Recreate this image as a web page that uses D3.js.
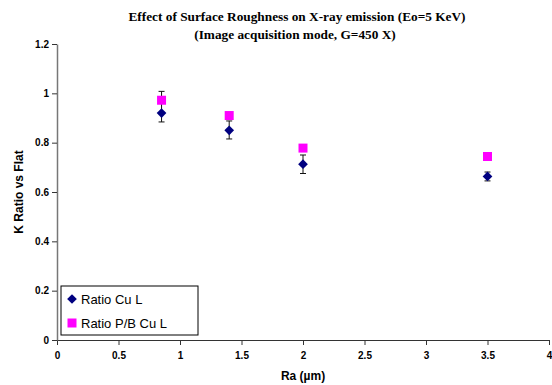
<!DOCTYPE html>
<html>
<head>
<meta charset="utf-8">
<script src="https://cdn.jsdelivr.net/npm/d3@7"></script>
<style>
  body { margin: 0; background: #fff; }
  svg { display: block; }
</style>
</head>
<body>
<div id="chart"></div>
<script>
// data
const roughness = [0.85, 1.4, 2, 3.5];
const ratioCuL = [0.92, 0.85, 0.713, 0.663];
const errUpCuL = [0.088, 0.038, 0.037, 0.018];
const errDownCuL = [0.036, 0.035, 0.038, 0.018];
const ratioPBCuL = [0.972, 0.91, 0.778, 0.744];
const xTicks = [0, 0.5, 1, 1.5, 2, 2.5, 3, 3.5, 4];
const yTicks = [0, 0.2, 0.4, 0.6, 0.8, 1, 1.2];
const seriesNames = ["Ratio Cu L", "Ratio P/B Cu L"];

const W = 552, H = 385;
const m = {left: 57, right: 3, top: 44, bottom: 45};

const svg = d3.select("#chart").append("svg")
  .attr("width", W)
  .attr("height", H);

const x = d3.scaleLinear().domain([0, 4]).range([m.left, W - m.right]);
const y = d3.scaleLinear().domain([0, 1.2]).range([H - m.bottom, m.top]);

// title
const title = svg.append("text")
  .attr("text-anchor", "middle")
  .style("font-family", "'Liberation Serif', 'Times New Roman', serif")
  .style("font-weight", "bold")
  .style("font-size", "13.3px");
title.append("tspan").attr("x", 297).attr("y", 21)
  .text("Effect of Surface Roughness on X-ray emission (Eo=5 KeV)");
title.append("tspan").attr("x", 295).attr("y", 39)
  .text("(Image acquisition mode, G=450 X)");

// axes
const xAxis = svg.append("g")
  .attr("transform", "translate(0," + y(0) + ")")
  .call(d3.axisBottom(x).tickValues(xTicks).tickSize(5).tickSizeOuter(0).tickFormat(d3.format("")));
const yAxis = svg.append("g")
  .attr("transform", "translate(" + x(0) + ",0)")
  .call(d3.axisLeft(y).tickValues(yTicks).tickSize(5).tickSizeOuter(0).tickFormat(d3.format("")));

[xAxis, yAxis].forEach(a => {
  a.select(".domain").attr("stroke", "#777").attr("stroke-width", 1.5);
  a.selectAll(".tick line").attr("stroke", "#333");
  a.selectAll(".tick text")
    .style("font-family", "'Liberation Sans', Arial, sans-serif")
    .style("font-weight", "bold")
    .style("font-size", "10px")
    .attr("fill", "#000");
});
xAxis.select(".domain").attr("stroke", "#333").attr("stroke-width", 1);
xAxis.selectAll(".tick text").attr("dy", "1.05em");
yAxis.selectAll(".tick text").attr("x", -8);

// axis titles
svg.append("text")
  .attr("x", (x(0) + x(4)) / 2)
  .attr("y", 380)
  .attr("text-anchor", "middle")
  .style("font-family", "'Liberation Sans', Arial, sans-serif")
  .style("font-weight", "bold")
  .style("font-size", "12px")
  .text("Ra (µm)");

svg.append("text")
  .attr("transform", "translate(23," + (y(0) + y(1.2)) / 2 + ") rotate(-90)")
  .attr("text-anchor", "middle")
  .style("font-family", "'Liberation Sans', Arial, sans-serif")
  .style("font-weight", "bold")
  .style("font-size", "12px")
  .text("K Ratio vs Flat");

// error bars on Cu L
const eb = svg.append("g").attr("stroke", "#111").attr("stroke-width", 1);
roughness.forEach((r, i) => {
  const top = y(ratioCuL[i] + errUpCuL[i]);
  const bot = y(ratioCuL[i] - errDownCuL[i]);
  eb.append("line").attr("x1", x(r)).attr("x2", x(r)).attr("y1", top).attr("y2", bot);
  eb.append("line").attr("x1", x(r) - 3).attr("x2", x(r) + 3).attr("y1", top).attr("y2", top);
  eb.append("line").attr("x1", x(r) - 3).attr("x2", x(r) + 3).attr("y1", bot).attr("y2", bot);
});

const diamond = d3.symbol().type(d3.symbolDiamond2).size(60);
const square = d3.symbol().type(d3.symbolSquare).size(81);

svg.append("g").selectAll("path")
  .data(roughness)
  .join("path")
  .attr("d", square)
  .attr("transform", (d, i) => "translate(" + x(d) + "," + y(ratioPBCuL[i]) + ")")
  .attr("fill", "#ff00ff");

svg.append("g").selectAll("path")
  .data(roughness)
  .join("path")
  .attr("d", diamond)
  .attr("transform", (d, i) => "translate(" + x(d) + "," + y(ratioCuL[i]) + ")")
  .attr("fill", "#000080");

// legend
const lg = svg.append("g").attr("transform", "translate(61,286)");
lg.append("rect")
  .attr("width", 137).attr("height", 49)
  .attr("fill", "#fff").attr("stroke", "#000").attr("stroke-width", 1);
const items = lg.selectAll(".item")
  .data(seriesNames)
  .join("g")
  .attr("class", "item")
  .attr("transform", (d, i) => "translate(11," + (13 + i * 24) + ")");
items.append("path")
  .attr("d", (d, i) => i === 0 ? diamond() : square())
  .attr("fill", (d, i) => i === 0 ? "#000080" : "#ff00ff");
items.append("text")
  .attr("x", 9)
  .attr("dy", "0.35em")
  .style("font-family", "'Liberation Sans', Arial, sans-serif")
  .style("font-size", "13px")
  .text(d => d);
</script>
</body>
</html>
